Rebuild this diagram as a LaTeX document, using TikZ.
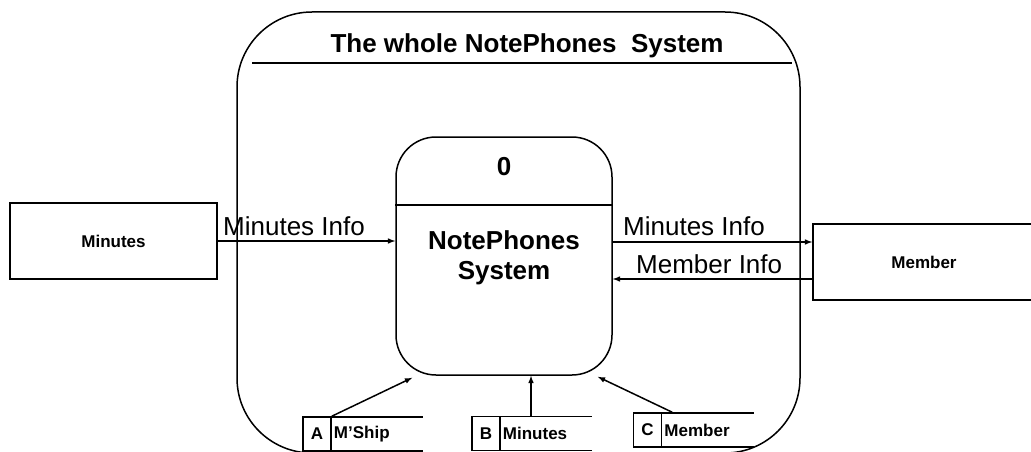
\documentclass[tikz,border=0pt]{standalone}
\usepackage{fontspec}
\setmainfont{Liberation Sans}
\usepackage{tikz}
\usetikzlibrary{shapes, arrows, positioning}
\newcommand{\grande}{\fontsize{26}{30}\selectfont}
\newcommand{\chico}{\fontsize{17}{20}\selectfont\bfseries}
\tikzstyle{linea} = [line width=1.5pt]
\tikzstyle{entidad} = [draw, line width=1.5pt, rectangle, minimum width=207pt, minimum height=76pt, font=\chico]
\tikzstyle{proceso} = [draw, line width=1.5pt, rectangle, rounded corners=40pt, minimum width=216pt, minimum height=238pt]
\tikzstyle{contexto} = [draw, line width=1.5pt, rectangle, rounded corners=75pt, minimum width=563pt, minimum height=441pt]
\tikzstyle{almacenid} = [draw, line width=1.5pt, rectangle, minimum width=28pt, minimum height=34pt, inner sep=0pt, font=\chico]
\tikzstyle{almacen} = [rectangle, minimum height=34pt, inner xsep=2pt, text width=87pt, align=left, font=\chico]
\tikzstyle{flujo} = [line width=1.5pt, -latex]
\tikzstyle{etiqueta} = [font=\grande, inner sep=0pt, anchor=base west]

\begin{document}
\begin{tikzpicture}[x=1pt, y=-1pt]
	\useasboundingbox (0,0) rectangle (1031,452);
	% sistema completo
	\node [contexto] (todo) at (518.5,232.5) {};
	\node [font=\grande\bfseries, inner sep=0pt, anchor=base] (titulo) at (527,53) {The whole NotePhones\ \ System};
	\draw [linea] (252,63) -- (792,63);
	% proceso
	\node [proceso] (sistema) at (504,256) {};
	\draw [linea] (sistema.west |- 0,205) -- (sistema.east |- 0,205);
	\node [font=\grande\bfseries] (numero) at (504,167) {0};
	\node [font=\grande\bfseries, align=center] (nombre) at (504,258) {NotePhones\\System};
	% entidades externas
	\node [entidad] (minutos) at (113.5,241) {Minutes};
	\node [entidad, minimum width=222pt] (miembro) at (924,262) {Member};
	% flujos
	\draw [flujo] (minutos.east) -- (minutos.east -| sistema.west);
	\node [etiqueta] (flujo1) at (223,235) {Minutes Info};
	\draw [flujo] (sistema.east |- 0,242) -- (miembro.west |- 0,242);
	\node [etiqueta] (flujo2) at (623,235) {Minutes Info};
	\draw [flujo] (miembro.west |- 0,279) -- (sistema.east |- 0,279);
	\node [etiqueta] (flujo3) at (636,273) {Member Info};
	% almacenes
	\node [almacenid] (idA) at (317,434) {A};
	\node [almacen, right=0pt of idA] (dA) {M'Ship};
	\node [almacenid] (idB) at (486,433.5) {B};
	\node [almacen, right=0pt of idB] (dB) {Minutes};
	\node [almacenid] (idC) at (647.5,430) {C};
	\node [almacen, right=0pt of idC] (dC) {Member};
	\foreach \d in {dA, dB, dC}{
		\draw [linea] (\d.north west) -- (\d.north east);
		\draw [linea] (\d.south west) -- (\d.south east);
	}
	\draw [flujo] (idA.north east) -- ([xshift=17pt,yshift=-2pt]sistema.south west);
	\draw [flujo] ([xshift=45pt]idB.north) -- ([xshift=45pt]idB.north |- sistema.south);
	\draw [flujo] ([xshift=10pt]idC.north east) -- ([xshift=-15pt,yshift=-1pt]sistema.south east);
\end{tikzpicture}
\end{document}
